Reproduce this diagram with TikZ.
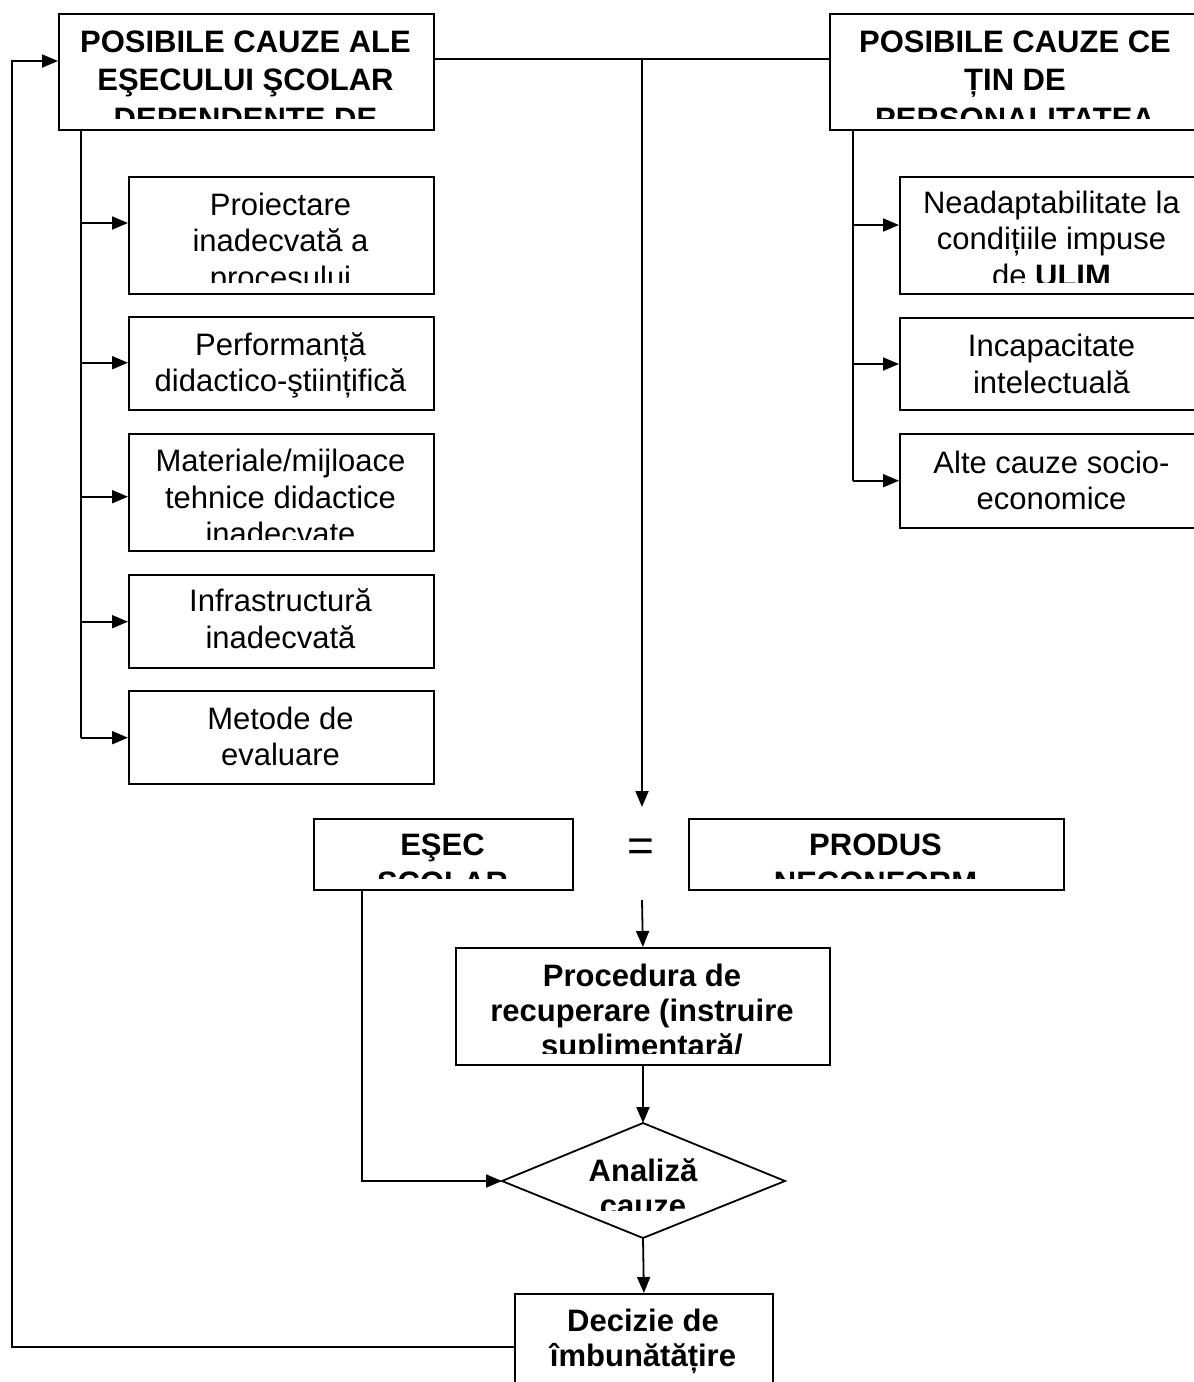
\documentclass[tikz,border=0pt]{standalone}
\usepackage{fontspec}
\setmainfont{Liberation Sans}
\usetikzlibrary{arrows.meta}

% stacked centred lines whose baseline is that of the first line
\newcommand{\lines}[1]{\begin{tabular}[t]{@{}c@{}}#1\end{tabular}}

% #1 name, #2 x1, #3 y1, #4 x2, #5 y2, #6 first baseline, #7 text style, #8 text
% The text is cut off a little above the lower edge of its frame.
\newcommand{\cutbox}[8]{%
  \node[box, minimum width={(#4-#2)*1pt}, minimum height={(#5-#3)*1pt}] (#1) at (#2,#3) {};
  \begin{scope}
    \clip (#2,#3) rectangle (#4,#5-11);
    \node[#7] (#1-t) at ({(#2+#4)/2},#6) {\lines{#8}};
  \end{scope}}

\tikzset{
  box/.style={draw, line width=1.8pt, inner sep=0pt, anchor=north west},
  ln/.style={line width=1.8pt},
  arr/.style={line width=1.8pt, -{Triangle[length=16pt,width=13pt]}},
  rt/.style={font=\fontsize{31}{36.5}\selectfont, anchor=base, inner sep=0pt},
  bt/.style={font=\fontsize{31}{38.5}\selectfont\bfseries, anchor=base, inner sep=0pt},
  btn/.style={font=\fontsize{31}{35}\selectfont\bfseries, anchor=base, inner sep=0pt},
}

\begin{document}
\begin{tikzpicture}[x=1pt, y=-1pt]
\clip (0,0) rectangle (1194,1382);
\fill[white] (0,0) rectangle (1194,1382);

% headings
\cutbox{tl}{58}{13}{433}{129}{52}{bt}{POSIBILE CAUZE ALE\\EŞECULUI ŞCOLAR\\DEPENDENTE DE}
\cutbox{tr}{829}{13}{1201}{129}{52}{bt}{POSIBILE CAUZE CE\\ȚIN DE\\PERSONALITATEA}

% causes tied to the teaching process
\cutbox{c1}{128}{176}{433}{293}{215}{rt}{Proiectare\\inadecvată a\\procesului}
\cutbox{c2}{128}{316}{433}{409}{355}{rt}{Performanță\\didactico-ştiințifică}
\cutbox{c3}{128}{433}{433}{550}{471.7}{rt}{Materiale/mijloace\\tehnice didactice\\inadecvate}
\cutbox{c4}{128}{574}{433}{667}{611.7}{rt}{Infrastructură\\inadecvată}
\cutbox{c5}{128}{690}{433}{783}{729.3}{rt}{Metode de\\evaluare}

% causes tied to the student
\cutbox{r1}{899}{176}{1204}{293}{213.3}{rt}{Neadaptabilitate la\\condițiile impuse\\de \textbf{ULIM}}
\cutbox{r2}{899}{317}{1204}{409}{356.7}{rt}{Incapacitate\\intelectuală}
\cutbox{r3}{899}{433}{1204}{527}{473.3}{rt}{Alte cauze socio-\\economice}

% outcome
\cutbox{es}{313}{818}{572}{889}{855}{bt}{EŞEC\\ŞCOLAR}
\node[font=\fontsize{46}{46}\selectfont, inner sep=0pt] (eq) at (641,850) {=};
\cutbox{pn}{688}{818}{1063}{889}{855}{bt}{PRODUS\\NECONFORM}

% recovery loop
\cutbox{pr}{455}{947}{829}{1064}{986.7}{btn}{Procedura de\\recuperare (instruire\\suplimentară/}
\coordinate (dl) at (502,1181);
\coordinate (dtop) at (643,1123);
\coordinate (dr) at (785,1181);
\coordinate (db) at (643,1238);
\draw[ln] (dl) -- (dtop) -- (dr) -- (db) -- cycle;
\begin{scope}
  \clip (540,1130) rectangle (745,1210);
  \node[btn] (an-t) at (643,1181) {\lines{Analiză\\cauze}};
\end{scope}
\cutbox{dec}{514}{1293}{772}{1420}{1331.7}{btn}{Decizie de\\îmbunătățire}

% link between the headings and the main flow
\coordinate (j) at (642,59);
\draw[ln] (tl.east |- j) -- (tr.west |- j);
\coordinate (eqtop) at (642,807);
\draw[arr] (j) -- (eqtop);
\coordinate (pstart) at (642,900);
\draw[arr] (pstart) -- (pr.north);
\draw[arr] (pr.south) -- (dtop);
\draw[arr] (db) -- (dec.north);

% failure goes to analysis
\coordinate (ex) at (362,0);
\draw[arr] (ex |- es.south) -- (ex |- dl) -- (dl);

% feedback to the first heading
\coordinate (fb) at (12,1347);
\coordinate (fbin) at (12,61);
\draw[arr] (dec.west |- fb) -- (fb) -- (fbin) -- (fbin -| tl.west);

% left trunk
\coordinate (lt) at (81,129);
\coordinate (la1) at (81,223);
\coordinate (la2) at (81,362.7);
\coordinate (la3) at (81,496.7);
\coordinate (la4) at (81,621.7);
\coordinate (la5) at (81,737.7);
\draw[ln] (lt) -- (la5);
\draw[arr] (la1) -- (la1 -| c1.west);
\draw[arr] (la2) -- (la2 -| c2.west);
\draw[arr] (la3) -- (la3 -| c3.west);
\draw[arr] (la4) -- (la4 -| c4.west);
\draw[arr] (la5) -- (la5 -| c5.west);

% right trunk
\coordinate (rt0) at (853,129);
\coordinate (ra1) at (853,225);
\coordinate (ra2) at (853,364);
\coordinate (ra3) at (853,480.7);
\draw[ln] (rt0) -- (ra3);
\draw[arr] (ra1) -- (ra1 -| r1.west);
\draw[arr] (ra2) -- (ra2 -| r2.west);
\draw[arr] (ra3) -- (ra3 -| r3.west);
\end{tikzpicture}
\end{document}
